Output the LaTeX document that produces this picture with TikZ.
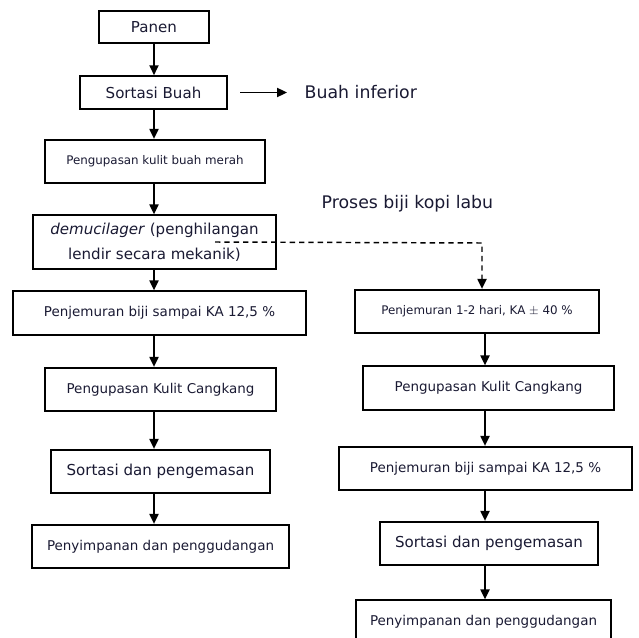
\documentclass[tikz,border=0pt]{standalone}
\usepackage{fontspec}
\setmainfont{DejaVu Sans}
\usepackage{xcolor}
\usepackage{tikz}
\usetikzlibrary{arrows.meta,positioning}
\definecolor{ink}{HTML}{1A1A33}
\tikzset{
  flow/.style={line width=1.1pt, -{Triangle[length=2.6mm, width=2.4mm]}},
  dashflow/.style={flow, dash pattern=on 4pt off 3pt},
  stepbox/.style={
    draw=black,
    line width=1.5pt,
    fill=white,
    align=center,
    text=ink,
    inner sep=2pt,
    minimum height=32.5pt
  },
  big/.style={font=\fontsize{11.3}{18.5}\selectfont},
  mid/.style={font=\fontsize{10.1}{12}\selectfont},
  small/.style={font=\fontsize{8.9}{10}\selectfont},
  caption/.style={text=ink, font=\fontsize{13}{15}\selectfont}
}

\begin{document}
\begin{tikzpicture}[x=0.75pt,y=-0.75pt]
\path[use as bounding box] (0,0) rectangle (639,638);
\fill[white] (0,0) rectangle (639,638);

% jalur utama
\node[stepbox, big, minimum width=82.5pt, minimum height=24.5pt] (panen) at (154,27) {Panen};
\node[stepbox, big, minimum width=110pt, minimum height=24.5pt] (sortasi) at (153.5,92.5) {Sortasi Buah};
\node[stepbox, small, minimum width=165pt] (kupas) at (155,161.5) {Pengupasan kulit buah merah};
\node[stepbox, big, minimum width=182pt, minimum height=40pt] (demu) at (154.5,242) {\textit{demucilager} (penghilangan\\lendir secara mekanik)};
\node[stepbox, mid, minimum width=219.5pt] (jemur) at (159.5,313) {Penjemuran biji sampai KA 12,5 \%};
\node[stepbox, mid, minimum width=173pt] (cangkang) at (160.5,389.5) {Pengupasan Kulit Cangkang};
\node[stepbox, big, minimum width=164pt] (kemas) at (160.5,471.5) {Sortasi dan pengemasan};
\node[stepbox, mid, minimum width=192.5pt] (gudang) at (160.5,546.5) {Penyimpanan dan penggudangan};

\node[caption, anchor=west] (inferior) at (300,92.5) {Buah inferior};
\coordinate (keluar) at (240,92.5);
\coordinate (masuk) at (287,92.5);

% jalur kopi labu
\node[caption, anchor=west] (labu) at (317,204) {Proses biji kopi labu};
\node[stepbox, small, minimum width=183pt] (jemur1) at (477,311.5) {Penjemuran 1-2 hari, KA $\pm$ 40 \%};
\node[stepbox, mid, minimum width=188pt] (cangkang2) at (488.5,388) {Pengupasan Kulit Cangkang};
\node[stepbox, mid, minimum width=219.5pt] (jemur2) at (485.5,468.5) {Penjemuran biji sampai KA 12,5 \%};
\node[stepbox, big, minimum width=163.5pt] (kemas2) at (489,543.5) {Sortasi dan pengemasan};
\node[stepbox, mid, minimum width=191pt] (gudang2) at (483.5,622) {Penyimpanan dan penggudangan};
\coordinate (belok) at (482,243);

\draw[flow] (panen.south -| 154,0) -- (sortasi.north -| 154,0);
\draw[flow] (sortasi.south -| 154,0) -- (kupas.north -| 154,0);
\draw[flow] (kupas.south -| 154,0) -- (demu.north -| 154,0);
\draw[flow] (demu.south -| 154,0) -- (jemur.north -| 154,0);
\draw[flow] (jemur.south -| 154,0) -- (cangkang.north -| 154,0);
\draw[flow] (cangkang.south -| 154,0) -- (kemas.north -| 154,0);
\draw[flow] (kemas.south -| 154,0) -- (gudang.north -| 154,0);
\draw[flow] (keluar) -- (masuk);

\draw[dashflow] (demu.center -| 215,0) -- (belok) -- (belok |- jemur1.north);
\draw[flow] (jemur1.south -| 485,0) -- (cangkang2.north -| 485,0);
\draw[flow] (cangkang2.south -| 485,0) -- (jemur2.north -| 485,0);
\draw[flow] (jemur2.south -| 485,0) -- (kemas2.north -| 485,0);
\draw[flow] (kemas2.south -| 485,0) -- (gudang2.north -| 485,0);
\end{tikzpicture}
\end{document}
